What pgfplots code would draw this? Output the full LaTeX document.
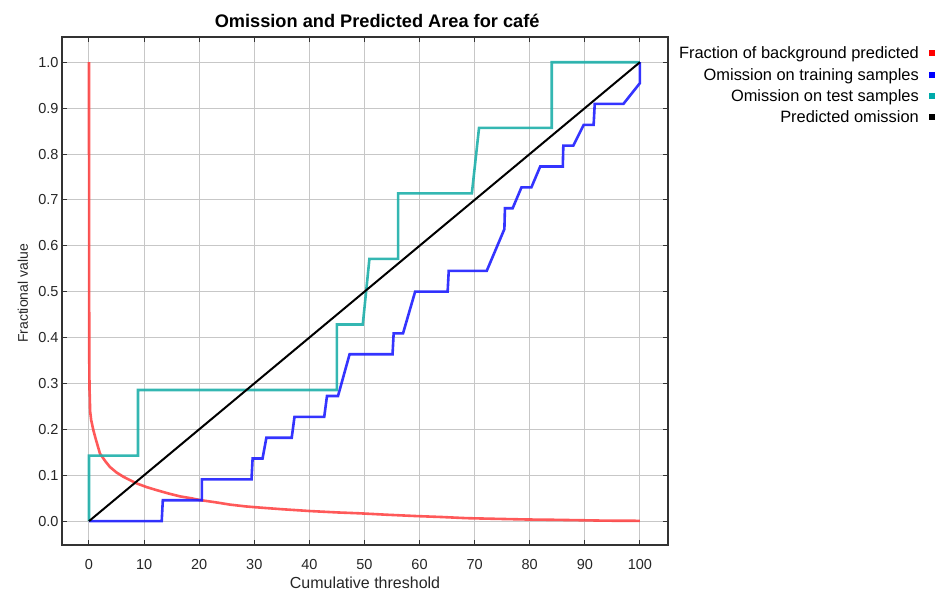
\documentclass[border=0pt]{standalone}
\usepackage{pgfplots}
\pgfplotsset{compat=1.18}
\usepackage{fontspec}
\setmainfont{Liberation Sans}
\definecolor{cRed}{RGB}{255,60,60}
\definecolor{cBlue}{RGB}{30,30,255}
\definecolor{cCyan}{RGB}{30,175,170}
\definecolor{lRed}{RGB}{255,0,0}
\definecolor{lBlue}{RGB}{0,0,255}
\definecolor{lCyan}{RGB}{0,170,170}
\pgfplotstableread{
x y
0 1.0
0.02 0.6
0.05 0.35
0.1 0.285
0.15 0.27
0.2 0.24
0.4 0.22
0.8 0.198
1.2 0.18
2 0.147
3 0.13
3.8 0.118
5 0.106
6.2 0.097
7.5 0.089
8.7 0.082
10.5 0.074
12.3 0.0675
14.5 0.06
16.5 0.054
18.5 0.05
20.1 0.046
23 0.041
25.6 0.036
28.5 0.032
31.6 0.029
35 0.026
40.1 0.022
45 0.019
49.2 0.017
54 0.014
59.5 0.011
64 0.009
68.5 0.0065
74 0.005
79.4 0.0036
84 0.003
89.1 0.002
94 0.001
100 0.0007
}\bgdata
\pgfplotstableread{
x y
0 0
13.2 0
13.4 0.0455
20.5 0.0455
20.5 0.0909
29.5 0.0909
29.7 0.1364
31.5 0.1364
32.2 0.1818
36.8 0.1818
37.3 0.2273
42.7 0.2273
43.2 0.2727
45.2 0.2727
47.3 0.3636
55.1 0.3636
55.3 0.4091
57.0 0.4091
59.2 0.5
65.1 0.5
65.3 0.5455
72.2 0.5455
75.4 0.6364
75.5 0.6818
76.9 0.6818
78.5 0.7273
80.3 0.7273
81.9 0.7727
86.0 0.7727
86.1 0.8182
87.9 0.8182
89.8 0.8636
91.6 0.8636
91.8 0.9091
97.0 0.9091
100 0.9545
100 1.0
}\traindata
\pgfplotstableread{
x y
0 0
0 0.1429
8.9 0.1429
8.9 0.2857
45.0 0.2857
45.0 0.4286
49.7 0.4286
50.9 0.5714
56.1 0.5714
56.1 0.7143
69.5 0.7143
70.8 0.8571
84.0 0.8571
84.0 1.0
100 1.0
}\testdata
\begin{document}
\begin{tikzpicture}
\begin{axis}[
  scale only axis, width=606pt, height=508pt,
  xmin=-4.9, xmax=105.1, ymin=-0.052, ymax=1.055,
  xtick={0,10,20,30,40,50,60,70,80,90,100},
  ytick={0,0.1,0.2,0.3,0.4,0.5,0.6,0.7,0.8,0.9,1.0},
  grid=major, major grid style={color=black!22, line width=1pt},
  tick align=inside, major tick length=5pt,
  tick style={black!80, line width=1pt},
  axis line style={line width=1.1pt, black!80},
  /pgf/number format/assume math mode=true,
  tick label style={font=\fontsize{14.5}{14.5}\selectfont, text=black!85},
  yticklabel style={/pgf/number format/.cd, fixed, fixed zerofill, precision=1},
  xticklabel style={anchor=base, yshift=-24pt},
  xlabel={Cumulative threshold}, ylabel={Fractional value},
  xlabel style={font=\fontsize{16}{16}\selectfont, text=black!85, at={(axis description cs:0.5,0)}, anchor=base, yshift=-43pt},
  ylabel style={font=\fontsize{14}{14}\selectfont, text=black!85, at={(axis description cs:-0.0561,0.495)}, anchor=base},
  title={Omission and Predicted Area for café},
  title style={at={(0.52,1)}, anchor=base, yshift=3pt, font=\bfseries\fontsize{18.2}{18.2}\selectfont},
  legend image code/.code={},
  legend cell align=right,
  legend style={draw=none, fill=none, at={(1.4406,0.981)}, anchor=north east,
    font=\fontsize{16.4}{16.4}\selectfont, row sep=5.3pt, inner sep=0pt, column sep=0pt,
    nodes={inner sep=0pt, text height=12pt, text depth=4pt}},
]
\addplot[cRed, line width=2.6pt, opacity=0.85] table[x=x,y=y] {\bgdata};
\addlegendentry{Fraction of background predicted\hspace{10pt}\textcolor{lRed}{\rule[2.5pt]{6pt}{6pt}}}
\addplot[cBlue, line width=2.6pt, opacity=0.9] table[x=x,y=y] {\traindata};
\addlegendentry{Omission on training samples\hspace{10pt}\textcolor{lBlue}{\rule[2.5pt]{6pt}{6pt}}}
\addplot[cCyan, line width=2.6pt, opacity=0.9] table[x=x,y=y] {\testdata};
\addlegendentry{Omission on test samples\hspace{10pt}\textcolor{lCyan}{\rule[2.5pt]{6pt}{6pt}}}
\addplot[black, line width=2pt] coordinates {(0,0) (100,1)};
\addlegendentry{Predicted omission\hspace{10pt}\textcolor{black}{\rule[2.5pt]{6pt}{6pt}}}
\coordinate (sw) at (rel axis cs:0,0);
\end{axis}
\pgfresetboundingbox
\path[use as bounding box] ([xshift=-62pt,yshift=-47pt]sw) rectangle ([xshift=875pt,yshift=545pt]sw);
\end{tikzpicture}
\end{document}
